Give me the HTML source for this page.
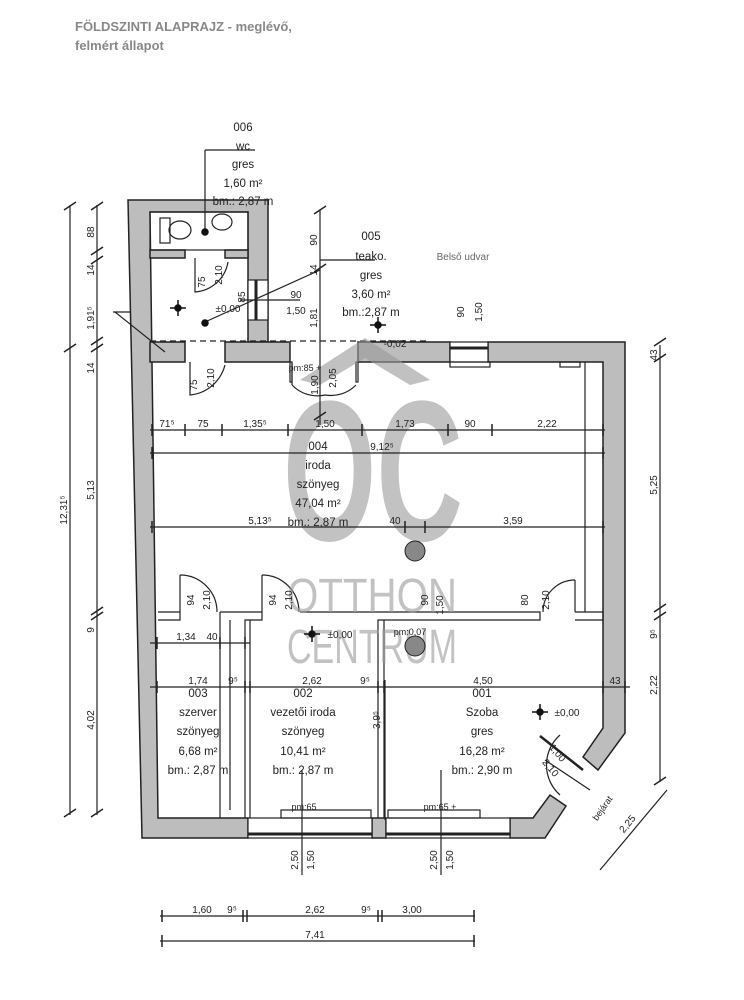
<!DOCTYPE html>
<html><head><meta charset="utf-8"><style>
body{margin:0;background:#fff}
svg{display:block}
text{font-family:"Liberation Sans",sans-serif;fill:#222}
</style></head><body>
<svg width="744" height="1000" viewBox="0 0 744 1000" xmlns="http://www.w3.org/2000/svg">
<rect width="744" height="1000" fill="#fff"/>
<text x="75" y="31" font-size="13" font-weight="bold" style="fill:#888">FÖLDSZINTI ALAPRAJZ - meglévő,</text>
<text x="75" y="50" font-size="13" font-weight="bold" style="fill:#888">felmért állapot</text>

<g fill="#bdbdbd" stroke="#222" stroke-width="1.5">
<polygon points="128,200 268,200 268,342 248,342 248,212 150,212 158,818 248,818 248,838 142,838"/>
<polygon points="150,250 185,250 185,258 150,258"/>
<polygon points="225,250 248,250 248,258 225,258"/>
<polygon points="150,342 185,342 185,362 150,362"/>
<polygon points="225,342 290,342 290,362 225,362"/>
<polygon points="358,342 450,342 450,362 358,362"/>
<polygon points="488,342 625,342 625,733 598,770 583,757 603,728 603,362 488,362"/>
<polygon points="372,818 386,818 386,838 372,838"/>
<polygon points="510,818 533,818 550,795 566,806 545,838 510,838"/>
</g>
<g stroke="#222" stroke-width="1.2" fill="none">
<rect x="150" y="212" width="98" height="38" fill="none"/>
<rect x="248" y="818" width="124" height="20" fill="#fff"/>
<line x1="248" y1="834" x2="372" y2="834" stroke-width="3"/>
<rect x="386" y="818" width="124" height="20" fill="#fff"/>
<line x1="386" y1="834" x2="510" y2="834" stroke-width="3"/>
<rect x="450" y="342" width="38" height="20" fill="#fff"/>
<line x1="450" y1="348" x2="488" y2="348" stroke-width="3"/>
<rect x="248" y="280" width="20" height="40" fill="#fff"/>
<line x1="256" y1="280" x2="256" y2="320" stroke-width="3"/>
<rect x="290" y="362" width="2" height="20"/>
<rect x="356" y="362" width="2" height="20"/>
<polyline points="158,612 180,612 180,620 158,620"/>
<polyline points="220,612 262,612 262,620 245,620 245,818"/>
<polyline points="220,620 220,818"/>
<polyline points="220,612 220,620"/>
<polyline points="300,612 540,612 540,620 378,620 378,818"/>
<polyline points="384,620 384,818"/>
<polyline points="250,620 250,818"/>
<polyline points="575,612 603,612 603,620 575,620"/>
<line x1="585" y1="362" x2="585" y2="612"/>
<line x1="230" y1="620" x2="230" y2="810"/>
<path d="M180,575 A37,37 0 0 1 217,612"/><line x1="180" y1="575" x2="180" y2="612"/>
<path d="M262,575 A37,37 0 0 1 299,612"/><line x1="262" y1="575" x2="262" y2="612"/>
<path d="M575,580 A32,32 0 0 0 543,612"/><line x1="575" y1="580" x2="575" y2="612"/>
<path d="M292,385 A35,35 0 0 0 325,395"/><line x1="292" y1="362" x2="292" y2="385"/>
<path d="M356,385 A35,35 0 0 1 325,395"/>
<path d="M190,362 L190,395 A40,40 0 0 0 225,365"/>
<path d="M195,258 L195,292 A36,36 0 0 0 228,262"/>
<path d="M560,735 A40,40 0 0 0 560,795"/>
<line x1="540" y1="736" x2="583" y2="770" stroke-width="2.5"/>
<line x1="545" y1="760" x2="590" y2="790"/>
<line x1="150" y1="341" x2="430" y2="341" stroke-dasharray="6,4"/>
<rect x="281" y="810" width="90" height="8"/>
<rect x="388" y="810" width="92" height="8"/>
<rect x="450" y="362" width="40" height="5"/>
<rect x="560" y="362" width="20" height="5"/>
<rect x="160" y="218" width="10" height="25"/>
<ellipse cx="180" cy="230" rx="11" ry="9"/>
<ellipse cx="222" cy="222" rx="10" ry="8"/>
</g>

<g fill="#999" opacity="0.6">
<text x="283" y="540" font-size="200" font-weight="bold" style="fill:#9a9a9a" textLength="180" lengthAdjust="spacingAndGlyphs">OC</text>
<polygon points="300,380 365,338 430,380 410,385 365,358 320,385"/>
<text x="287" y="612" font-size="48" style="fill:#9a9a9a" textLength="170" lengthAdjust="spacingAndGlyphs">OTTHON</text>
<text x="287" y="663" font-size="48" style="fill:#9a9a9a" textLength="170" lengthAdjust="spacingAndGlyphs">CENTRUM</text>
</g>
<circle cx="415" cy="551" r="10" fill="#888" stroke="#222"/>
<circle cx="415" cy="646" r="10" fill="#888" stroke="#222"/>

<g stroke="#222" stroke-width="1.2">
<line x1="70" y1="205" x2="70" y2="815"/>
<line x1="97" y1="205" x2="97" y2="815"/>
<line x1="320" y1="210" x2="320" y2="425"/>
<line x1="660" y1="345" x2="660" y2="782"/>
<line x1="150" y1="430" x2="605" y2="430"/>
<line x1="150" y1="453" x2="605" y2="453"/>
<line x1="150" y1="527" x2="605" y2="527"/>
<line x1="150" y1="643" x2="250" y2="643"/>
<line x1="150" y1="687" x2="630" y2="687"/>
<line x1="385" y1="680" x2="385" y2="820"/>
<line x1="160" y1="916" x2="475" y2="916"/>
<line x1="160" y1="941" x2="475" y2="941"/>
<line x1="600" y1="870" x2="667" y2="790"/>
<line x1="302" y1="770" x2="302" y2="875"/>
<line x1="441" y1="770" x2="441" y2="875"/>
<line x1="205" y1="150" x2="205" y2="230"/><line x1="205" y1="150" x2="255" y2="150"/>
<line x1="205" y1="322" x2="320" y2="270"/><line x1="320" y1="260" x2="375" y2="260"/>
<line x1="240" y1="300" x2="300" y2="300"/>
<line x1="115" y1="312" x2="165" y2="352"/>
<line x1="113" y1="312" x2="130" y2="312"/>
<g stroke-width="1.5">
<path d="M64,210 l12,-8 M64,352 l12,-8 M64,817 l12,-8 M91,210l12,-8 M91,255l12,-8 M91,264l12,-8 M91,345l12,-8 M91,352l12,-8 M91,615l12,-8 M91,620l12,-8 M91,817l12,-8"/>
<path d="M654,346l12,-8 M654,362l12,-8 M654,612l12,-8 M654,620l12,-8 M654,785l12,-8"/>
<path d="M314,214l12,-8 M314,272l12,-8 M314,420l12,-8"/>
<line x1="152" y1="424" x2="152" y2="436"/><line x1="185" y1="424" x2="185" y2="436"/><line x1="222" y1="424" x2="222" y2="436"/><line x1="288" y1="424" x2="288" y2="436"/><line x1="362" y1="424" x2="362" y2="436"/><line x1="448" y1="424" x2="448" y2="436"/><line x1="492" y1="424" x2="492" y2="436"/><line x1="603" y1="424" x2="603" y2="436"/>
<line x1="152" y1="447" x2="152" y2="459"/><line x1="603" y1="447" x2="603" y2="459"/>
<line x1="152" y1="521" x2="152" y2="533"/><line x1="405" y1="521" x2="405" y2="533"/><line x1="425" y1="521" x2="425" y2="533"/><line x1="603" y1="521" x2="603" y2="533"/>
<line x1="157" y1="637" x2="157" y2="649"/><line x1="220" y1="637" x2="220" y2="649"/><line x1="245" y1="637" x2="245" y2="649"/>
<line x1="157" y1="681" x2="157" y2="693"/><line x1="245" y1="681" x2="245" y2="693"/><line x1="250" y1="681" x2="250" y2="693"/><line x1="378" y1="681" x2="378" y2="693"/><line x1="384" y1="681" x2="384" y2="693"/><line x1="603" y1="681" x2="603" y2="693"/><line x1="625" y1="681" x2="625" y2="693"/>
<line x1="162" y1="910" x2="162" y2="922"/><line x1="243" y1="910" x2="243" y2="922"/><line x1="247" y1="910" x2="247" y2="922"/><line x1="378" y1="910" x2="378" y2="922"/><line x1="382" y1="910" x2="382" y2="922"/><line x1="474" y1="910" x2="474" y2="922"/>
<line x1="162" y1="935" x2="162" y2="947"/><line x1="474" y1="935" x2="474" y2="947"/>
</g>
</g>
<g stroke="#111" stroke-width="1.5" fill="#111">
<circle cx="178" cy="308" r="3"/><line x1="170" y1="308" x2="186" y2="308"/><line x1="178" y1="300" x2="178" y2="316"/>
<circle cx="378" cy="325" r="3"/><line x1="370" y1="325" x2="386" y2="325"/><line x1="378" y1="317" x2="378" y2="333"/>
<circle cx="312" cy="634" r="3"/><line x1="304" y1="634" x2="320" y2="634"/><line x1="312" y1="626" x2="312" y2="642"/>
<circle cx="540" cy="712" r="3"/><line x1="532" y1="712" x2="548" y2="712"/><line x1="540" y1="704" x2="540" y2="720"/>
<circle cx="205" cy="323" r="3"/><circle cx="205" cy="232" r="3"/>
</g>

<g font-size="11.5" text-anchor="middle">
<text x="243" y="131">006</text><text x="243" y="150">wc</text><text x="243" y="168">gres</text>
<text x="243" y="187">1,60 m²</text><text x="243" y="205">bm.: 2,87 m</text>
<text x="371" y="240">005</text><text x="371" y="260">teako.</text><text x="371" y="279">gres</text>
<text x="371" y="298">3,60 m²</text><text x="371" y="316">bm.:2,87 m</text>
<text x="463" y="260" font-size="10" style="fill:#666">Belső udvar</text>
<text x="318" y="450">004</text><text x="318" y="469">iroda</text><text x="318" y="488">szönyeg</text>
<text x="318" y="507">47,04 m²</text><text x="318" y="526">bm.: 2,87 m</text>
<text x="198" y="697">003</text><text x="198" y="716">szerver</text><text x="198" y="735">szönyeg</text><text x="198" y="755">6,68 m²</text><text x="198" y="774">bm.: 2,87 m</text>
<text x="303" y="697">002</text><text x="303" y="716">vezetői iroda</text><text x="303" y="735">szönyeg</text><text x="303" y="755">10,41 m²</text><text x="303" y="774">bm.: 2,87 m</text>
<text x="482" y="697">001</text><text x="482" y="716">Szoba</text><text x="482" y="735">gres</text><text x="482" y="755">16,28 m²</text><text x="482" y="774">bm.: 2,90 m</text>
</g>
<g font-size="10" text-anchor="middle">
<text x="167" y="427">71⁵</text><text x="203" y="427">75</text><text x="255" y="427">1,35⁵</text><text x="325" y="427">1,50</text><text x="405" y="427">1,73</text><text x="470" y="427">90</text><text x="547" y="427">2,22</text>
<text x="382" y="450">9,12⁵</text>
<text x="260" y="524">5,13⁵</text><text x="395" y="524">40</text><text x="513" y="524">3,59</text>
<text x="186" y="640">1,34</text><text x="212" y="640">40</text>
<text x="198" y="684">1,74</text><text x="233" y="684">9⁵</text><text x="312" y="684">2,62</text><text x="365" y="684">9⁵</text><text x="483" y="684">4,50</text><text x="615" y="684">43</text>
<text x="202" y="913">1,60</text><text x="232" y="913">9⁵</text><text x="315" y="913">2,62</text><text x="366" y="913">9⁵</text><text x="412" y="913">3,00</text>
<text x="315" y="938">7,41</text>
<text x="395" y="347">-0,02</text>
<text x="228" y="312">±0,00</text><text x="340" y="638">±0,00</text><text x="567" y="716">±0,00</text>
<text x="296" y="298">90</text><text x="296" y="314">1,50</text>
<text x="305" y="371" font-size="9">pm:85 +</text>
<text x="410" y="635" font-size="9">pm:0,07</text>
<text x="304" y="810" font-size="9">pm:65</text>
<text x="440" y="810" font-size="9">pm:65 +</text>
</g>
<g font-size="10" text-anchor="middle">
<text transform="translate(67,510) rotate(-90)">12,31⁵</text>
<text transform="translate(94,232) rotate(-90)">88</text>
<text transform="translate(94,270) rotate(-90)">14</text>
<text transform="translate(94,318) rotate(-90)">1,91⁵</text>
<text transform="translate(94,368) rotate(-90)">14</text>
<text transform="translate(94,490) rotate(-90)">5,13</text>
<text transform="translate(94,630) rotate(-90)">9</text>
<text transform="translate(94,720) rotate(-90)">4,02</text>
<text transform="translate(317,240) rotate(-90)">90</text>
<text transform="translate(317,270) rotate(-90)">14</text>
<text transform="translate(317,318) rotate(-90)">1,81</text>
<text transform="translate(657,355) rotate(-90)">43</text>
<text transform="translate(657,485) rotate(-90)">5,25</text>
<text transform="translate(657,634) rotate(-90)">9⁵</text>
<text transform="translate(657,685) rotate(-90)">2,22</text>
<text transform="translate(464,312) rotate(-90)">90</text>
<text transform="translate(482,312) rotate(-90)">1,50</text>
<text transform="translate(298,860) rotate(-90)">2,50</text>
<text transform="translate(314,860) rotate(-90)">1,50</text>
<text transform="translate(437,860) rotate(-90)">2,50</text>
<text transform="translate(453,860) rotate(-90)">1,50</text>
<text transform="translate(380,720) rotate(-90)">3,9⁵</text>
<text transform="translate(194,600) rotate(-90)">94</text><text transform="translate(210,600) rotate(-90)">2,10</text>
<text transform="translate(276,600) rotate(-90)">94</text><text transform="translate(292,600) rotate(-90)">2,10</text>
<text transform="translate(528,600) rotate(-90)">80</text><text transform="translate(549,600) rotate(-90)">2,10</text>
<text transform="translate(428,600) rotate(-90)">90</text><text transform="translate(443,605) rotate(-90)">1,50</text>
<text transform="translate(205,282) rotate(-90)">75</text><text transform="translate(222,275) rotate(-90)">2,10</text>
<text transform="translate(197,385) rotate(-90)">75</text><text transform="translate(214,378) rotate(-90)">2,10</text>
<text transform="translate(245,297) rotate(-90)">85</text>
<text transform="translate(318,385) rotate(-90)">1,90</text><text transform="translate(336,378) rotate(-90)">2,05</text>
<text transform="translate(555,755) rotate(50)">1,00</text>
<text transform="translate(548,770) rotate(50)">2,10</text>
<text transform="translate(605,810) rotate(-55)" font-size="9">bejárat</text>
<text transform="translate(630,826) rotate(-50)">2,25</text>
</g>
</svg>
</body></html>
